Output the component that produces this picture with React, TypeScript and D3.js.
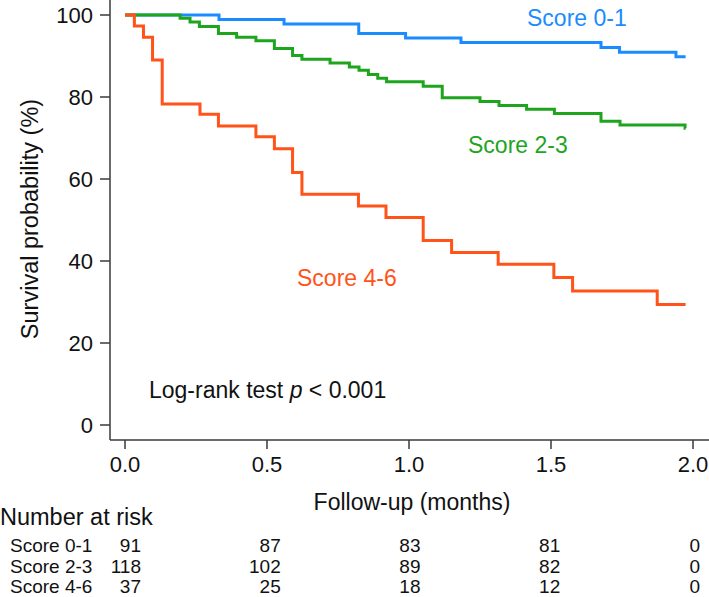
import React from 'react';
import * as d3 from 'd3';

// Kaplan-Meier step values (time in months, survival in %)
const timesA = [0, 0.331, 0.56, 0.823, 0.988, 1.183, 1.676, 1.741, 1.94, 1.974];
const survA = [100, 98.9, 97.8, 95.5, 94.4, 93.3, 92.1, 90.9, 89.8, 89.8];

const timesB = [0, 0.194, 0.229, 0.262, 0.329, 0.393, 0.461, 0.526, 0.59, 0.623, 0.722, 0.79, 0.824,
  0.857, 0.89, 0.921, 1.05, 1.117, 1.25, 1.317, 1.414, 1.512, 1.676, 1.743, 1.972, 1.974];
const survB = [100, 99.2, 98.3, 97.2, 95.5, 94.6, 93.7, 91.8, 90.1, 89.2, 88.3, 87.3, 86.5,
  85.5, 84.6, 83.7, 82.6, 79.8, 78.9, 77.9, 77.0, 76.0, 74.1, 73.2, 72.4, 72.4];

const timesC = [0, 0.033, 0.065, 0.097, 0.131, 0.264, 0.329, 0.461, 0.526, 0.59, 0.623, 0.822, 0.919,
  1.05, 1.15, 1.314, 1.51, 1.576, 1.874, 1.974];
const survC = [100, 97.3, 94.6, 89.0, 78.3, 75.8, 72.9, 70.3, 67.4, 61.6, 56.3, 53.4, 50.6,
  45.0, 42.1, 39.2, 36.0, 32.7, 29.4, 29.4];

const groupNames = ['Score 0-1', 'Score 2-3', 'Score 4-6'];
const groupColors = ['#1a8cff', '#1ea51e', '#ff5319'];

const xTicks = [0, 0.5, 1.0, 1.5, 2.0];
const yTicks = [0, 20, 40, 60, 80, 100];

const riskTimes = [0, 0.5, 1.0, 1.5, 2.0];
const riskA = [91, 87, 83, 81, 0];
const riskB = [118, 102, 89, 82, 0];
const riskC = [37, 25, 18, 12, 0];

const font = '"Liberation Sans", Arial, Helvetica, sans-serif';

export default function App() {
  const W = 709;
  const H = 597;

  const x = d3.scaleLinear().domain([0, 2]).range([125, 693]);
  const y = d3.scaleLinear().domain([0, 100]).range([425, 15]);
  const riskX = d3.scaleLinear().domain([0, 2]).range([141, 700]);

  const axisX = 110;
  const axisY = 440;

  const line = d3.line<[number, number]>()
    .x(d => x(d[0]))
    .y(d => y(d[1]))
    .curve(d3.curveStepAfter);

  const series = [
    { t: timesA, s: survA },
    { t: timesB, s: survB },
    { t: timesC, s: survC },
  ];
  const risk = [riskA, riskB, riskC];

  return (
    <svg width={W} height={H} style={{ position: 'absolute', left: 0, top: 0, background: '#fff' }}
      fontFamily={font}>
      {/* axes */}
      <line x1={axisX} x2={axisX} y1={0} y2={axisY} stroke="#3a3a3a" strokeWidth={1.5} />
      <line x1={axisX} x2={W} y1={axisY} y2={axisY} stroke="#3a3a3a" strokeWidth={1.5} />

      {yTicks.map(v => (
        <g key={'y' + v}>
          <line x1={axisX - 10} x2={axisX} y1={y(v)} y2={y(v)} stroke="#3a3a3a" strokeWidth={1.5} />
          <text x={93} y={y(v)} dy="0.36em" textAnchor="end" fontSize={22} fill="#111">{v}</text>
        </g>
      ))}

      {xTicks.map(v => (
        <g key={'x' + v}>
          <line x1={x(v)} x2={x(v)} y1={axisY} y2={axisY + 9} stroke="#3a3a3a" strokeWidth={1.5} />
          <text x={x(v)} y={471.5} textAnchor="middle" fontSize={22} fill="#111">{v.toFixed(1)}</text>
        </g>
      ))}

      <text transform={`translate(38,219) rotate(-90)`} textAnchor="middle" fontSize={23.5} fill="#111">
        Survival probability (%)
      </text>
      <text x={412} y={510} textAnchor="middle" fontSize={23} fill="#111">Follow-up (months)</text>

      {/* survival curves */}
      {series.map((sr, i) => (
        <path key={'c' + i}
          d={line(sr.t.map((t, j) => [t, sr.s[j]] as [number, number])) || ''}
          fill="none" stroke={groupColors[i]} strokeWidth={3} strokeLinejoin="miter" />
      ))}

      {/* curve labels */}
      <text x={527} y={26} fontSize={23} fill={groupColors[0]}>{groupNames[0]}</text>
      <text x={468} y={153} fontSize={23} fill={groupColors[1]}>{groupNames[1]}</text>
      <text x={297} y={286} fontSize={23} fill={groupColors[2]}>{groupNames[2]}</text>

      <text x={149} y={398} fontSize={23} fill="#111">
        Log-rank test <tspan fontStyle="italic">p</tspan> &lt; 0.001
      </text>

      {/* number at risk table */}
      <text x={0} y={525} fontSize={23.5} fill="#111">Number at risk</text>
      {risk.map((row, i) => (
        <g key={'r' + i}>
          <text x={10} y={552 + i * 20.5} fontSize={19} fill="#111">{groupNames[i]}</text>
          {row.map((n, j) => (
            <text key={j} x={riskX(riskTimes[j])} y={552 + i * 20.5} textAnchor="end" fontSize={19} fill="#111">{n}</text>
          ))}
        </g>
      ))}
    </svg>
  );
}
